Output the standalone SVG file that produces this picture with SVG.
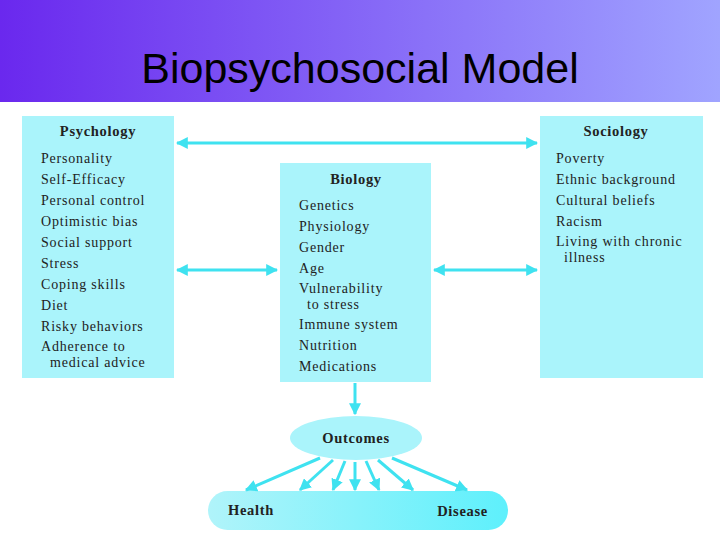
<svg xmlns="http://www.w3.org/2000/svg" width="720" height="540" viewBox="0 0 720 540">
<defs>
<linearGradient id="hdr" x1="0" y1="0" x2="1" y2="0"><stop offset="0" stop-color="#6a28ee"/><stop offset="1" stop-color="#a0a4ff"/></linearGradient>
<linearGradient id="bar" x1="0" y1="0" x2="1" y2="0"><stop offset="0" stop-color="#b0f4fa"/><stop offset="1" stop-color="#5ef0fc"/></linearGradient>
<marker id="ah" viewBox="0 0 10 10" refX="9" refY="5" markerWidth="4" markerHeight="4" orient="auto-start-reverse"><path d="M0,0L10,5L0,10z" fill="#3fe2f0"/></marker>
<style>
.box{fill:#aaf4fb}
.t{font-family:"Liberation Serif",serif;font-size:14px;letter-spacing:0.8px;fill:#222}
.h{font-family:"Liberation Serif",serif;font-size:14.5px;letter-spacing:0.7px;font-weight:bold;fill:#222}
.c{stroke:#3fe2f0;stroke-width:3;fill:none;marker-end:url(#ah)}
.d{marker-start:url(#ah)}
</style>
</defs>
<rect width="720" height="540" fill="#fff"/>
<rect width="720" height="102" fill="url(#hdr)"/>
<text x="360" y="83" text-anchor="middle" font-family="Liberation Sans,sans-serif" font-size="43" fill="#000">Biopsychosocial Model</text>
<g id="psychology">
<rect class="box" x="22" y="116" width="152" height="262"/>
<text class="h" x="98" y="136" text-anchor="middle">Psychology</text>
<text class="t" x="41" y="163">Personality</text>
<text class="t" x="41" y="184">Self-Efficacy</text>
<text class="t" x="41" y="205">Personal control</text>
<text class="t" x="41" y="226">Optimistic bias</text>
<text class="t" x="41" y="247">Social support</text>
<text class="t" x="41" y="268">Stress</text>
<text class="t" x="41" y="289">Coping skills</text>
<text class="t" x="41" y="310">Diet</text>
<text class="t" x="41" y="331">Risky behaviors</text>
<text class="t" x="41" y="351">Adherence to</text>
<text class="t" x="50" y="367">medical advice</text>
</g>
<g id="biology">
<rect class="box" x="280" y="163" width="151" height="219"/>
<text class="h" x="356" y="184" text-anchor="middle">Biology</text>
<text class="t" x="299" y="210">Genetics</text>
<text class="t" x="299" y="231">Physiology</text>
<text class="t" x="299" y="252">Gender</text>
<text class="t" x="299" y="273">Age</text>
<text class="t" x="299" y="293">Vulnerability</text>
<text class="t" x="307" y="309">to stress</text>
<text class="t" x="299" y="329">Immune system</text>
<text class="t" x="299" y="350">Nutrition</text>
<text class="t" x="299" y="371">Medications</text>
</g>
<g id="sociology">
<rect class="box" x="540" y="116" width="163" height="262"/>
<text class="h" x="616" y="136" text-anchor="middle">Sociology</text>
<text class="t" x="556" y="163">Poverty</text>
<text class="t" x="556" y="184">Ethnic background</text>
<text class="t" x="556" y="205">Cultural beliefs</text>
<text class="t" x="556" y="226">Racism</text>
<text class="t" x="556" y="246">Living with chronic</text>
<text class="t" x="564" y="262">illness</text>
</g>
<g id="outcomes">
<ellipse cx="356" cy="438" rx="66" ry="22" fill="#aaf4fb"/>
<text class="h" x="356" y="443" text-anchor="middle">Outcomes</text>
</g>
<g id="healthdisease">
<rect x="208" y="491" width="300" height="39" rx="19.5" fill="url(#bar)"/>
<text class="h" x="228" y="515">Health</text>
<text class="h" x="488" y="516" text-anchor="end">Disease</text>
</g>
<g id="connectors">
<line class="c d" x1="177" y1="143" x2="537" y2="143"/>
<line class="c d" x1="177" y1="270" x2="277" y2="270"/>
<line class="c d" x1="434" y1="270" x2="537" y2="270"/>
<line class="c" x1="355" y1="383" x2="355" y2="414"/>
<line class="c" x1="320" y1="458" x2="246" y2="490"/>
<line class="c" x1="333" y1="460" x2="300" y2="490"/>
<line class="c" x1="345" y1="461" x2="333" y2="490"/>
<line class="c" x1="355" y1="462" x2="355" y2="490"/>
<line class="c" x1="366" y1="461" x2="379" y2="490"/>
<line class="c" x1="378" y1="460" x2="413" y2="490"/>
<line class="c" x1="392" y1="458" x2="467" y2="490"/>
</g>
</svg>
